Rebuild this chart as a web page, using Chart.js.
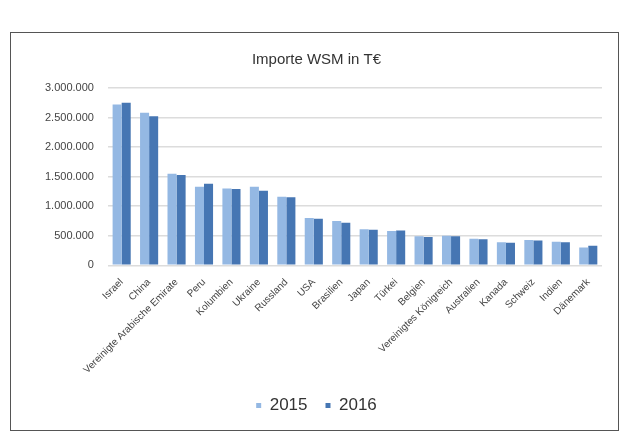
<!DOCTYPE html>
<html>
<head>
<meta charset="utf-8">
<script src="https://cdn.jsdelivr.net/npm/chart.js@4"></script>
<style>
  body { margin: 0; background: #fff; }
  #frame {
    position: absolute; left: 10px; top: 32px;
    width: 607px; height: 397px;
    border: 1px solid #555;
  }
</style>
</head>
<body>
<div id="frame"><canvas id="importChart" width="607" height="397"></canvas></div>
<script>
const countries = [
  'Israel', 'China', 'Vereinigte Arabische Emirate', 'Peru', 'Kolumbien',
  'Ukraine', 'Russland', 'USA', 'Brasilien', 'Japan', 'Türkei', 'Belgien',
  'Vereinigtes Königreich', 'Australien', 'Kanada', 'Schweiz', 'Indien', 'Dänemark'
];
const values2015 = [
  2720000, 2580000, 1550000, 1330000, 1300000, 1330000, 1160000, 800000, 750000,
  610000, 580000, 490000, 500000, 450000, 390000, 430000, 400000, 300000
];
const values2016 = [
  2750000, 2520000, 1530000, 1380000, 1290000, 1260000, 1150000, 790000, 720000,
  600000, 590000, 480000, 490000, 440000, 380000, 420000, 390000, 330000
];
const yTicks = [0, 500000, 1000000, 1500000, 2000000, 2500000, 3000000];

function formatDe(v) {
  return String(v).replace(/\B(?=(\d{3})+(?!\d))/g, '.');
}

const ctx = document.getElementById('importChart').getContext('2d');

new Chart(ctx, {
  type: 'bar',
  data: {
    labels: countries,
    datasets: [
      {
        label: '2015',
        data: values2015,
        backgroundColor: '#94b8e3',
        borderWidth: 0
      },
      {
        label: '2016',
        data: values2016,
        backgroundColor: '#4676b3',
        borderWidth: 0
      }
    ]
  },
  options: {
    responsive: false,
    animation: false,
    layout: { padding: { left: 20, right: 16, top: 6, bottom: 6 } },
    datasets: {
      bar: { categoryPercentage: 0.66, barPercentage: 1.0 }
    },
    plugins: {
      title: {
        display: true,
        text: 'Importe WSM in T€',
        color: '#333',
        font: { family: 'Liberation Sans', size: 15, weight: 'normal' },
        padding: { top: 12, bottom: 19 }
      },
      legend: {
        position: 'bottom',
        labels: {
          color: '#333',
          font: { family: 'Liberation Sans', size: 17 },
          boxWidth: 5,
          boxHeight: 5,
          padding: 18
        }
      },
      tooltip: { enabled: false }
    },
    scales: {
      x: {
        grid: { display: false },
        border: { display: false },
        ticks: {
          color: '#444',
          font: { family: 'Liberation Sans', size: 10 },
          minRotation: 45,
          maxRotation: 45,
          autoSkip: false
        }
      },
      y: {
        min: 0,
        max: 3000000,
        afterBuildTicks: axis => { axis.ticks = yTicks.map(v => ({ value: v })); },
        grid: { color: '#dcdcdc', lineWidth: 1.5, drawTicks: false },
        border: { display: false },
        ticks: {
          color: '#444',
          font: { family: 'Liberation Sans', size: 11 },
          padding: 14,
          callback: v => formatDe(v)
        }
      }
    }
  }
});
</script>
</body>
</html>
